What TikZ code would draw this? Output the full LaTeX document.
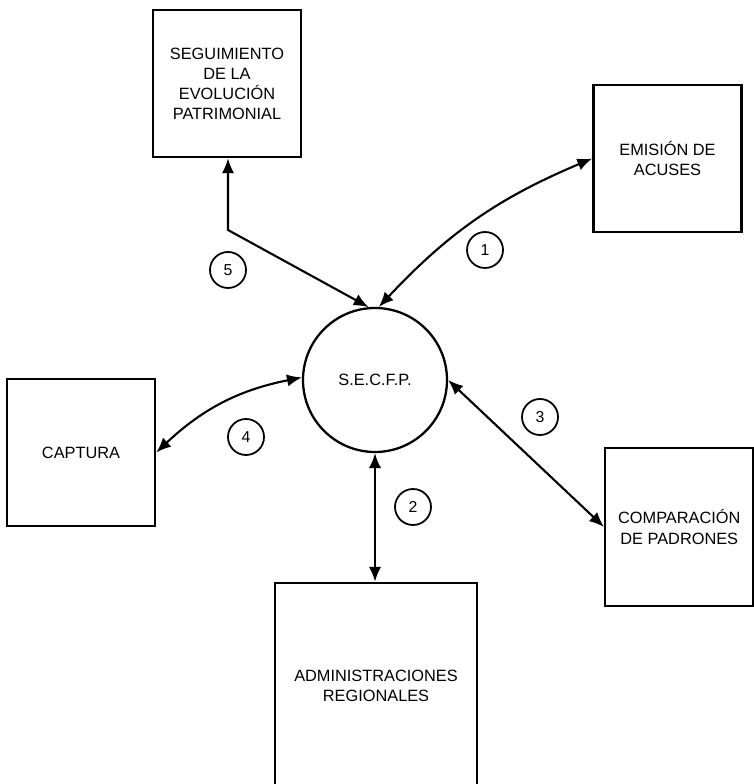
\documentclass[tikz,border=0pt]{standalone}
\usepackage{fontspec}
\setmainfont{Liberation Sans}
\usetikzlibrary{positioning}
\usetikzlibrary{arrows.meta}

\tikzset{
  caja/.style={draw, line width=1.4pt, minimum width=2.96cm, minimum height=2.94cm,
    align=center, font=\fontsize{9.3pt}{11.4pt}\selectfont},
  flujo/.style={line width=1.2pt, >={Latex[length=8.5pt,width=7pt]}, <->},
  num/.style={draw, circle, line width=1pt, minimum size=0.72cm, inner sep=0pt,
    font=\fontsize{9pt}{10pt}\selectfont}
}

\begin{document}
\begin{tikzpicture}

\useasboundingbox (0,0) rectangle (15.08,15.68);

%% boxes
\node[caja] (seg) at (4.54,14.01) {SEGUIMIENTO\\DE LA\\EVOLUCIÓN\\PATRIMONIAL};
\node[caja] (emi) at (13.35,12.51) {EMISIÓN DE\\ACUSES};
\node[caja] (cap) at (1.62,6.63) {CAPTURA};
\node[caja, minimum height=3.16cm] (comp) at (13.585,5.14) {COMPARACIÓN\\DE PADRONES};
\node[caja, minimum width=4.04cm, minimum height=4.1cm] (adm) at (7.52,1.97) {ADMINISTRACIONES\\REGIONALES};

%% system
\node[draw, circle, line width=1.3pt, minimum size=2.88cm,
  font=\fontsize{9.3pt}{11.4pt}\selectfont] (sis) at (7.50,8.08) {S.E.C.F.P.};

%% flows
\coordinate (k5) at (4.56,11.08);
\draw[flujo] (seg.south -| k5) -- (k5) -- (sis.95);
\draw[flujo] (sis.87) to[bend left=12] (emi.west);
\draw[flujo] (cap.east) to[bend left=16] (sis.178);
\draw[flujo] (sis.east) -- (comp.west);
\draw[flujo] (sis.south) -- (sis.south |- adm.north);

% numbers
\node[num] (n1) at (9.70,10.68) {1};
\node[num] (n2) at (8.26,5.54) {2};
\node[num] (n3) at (10.80,7.34) {3};
\node[num] (n4) at (4.92,6.94) {4};
\node[num] (n5) at (4.56,10.28) {5};

\end{tikzpicture}
\end{document}
